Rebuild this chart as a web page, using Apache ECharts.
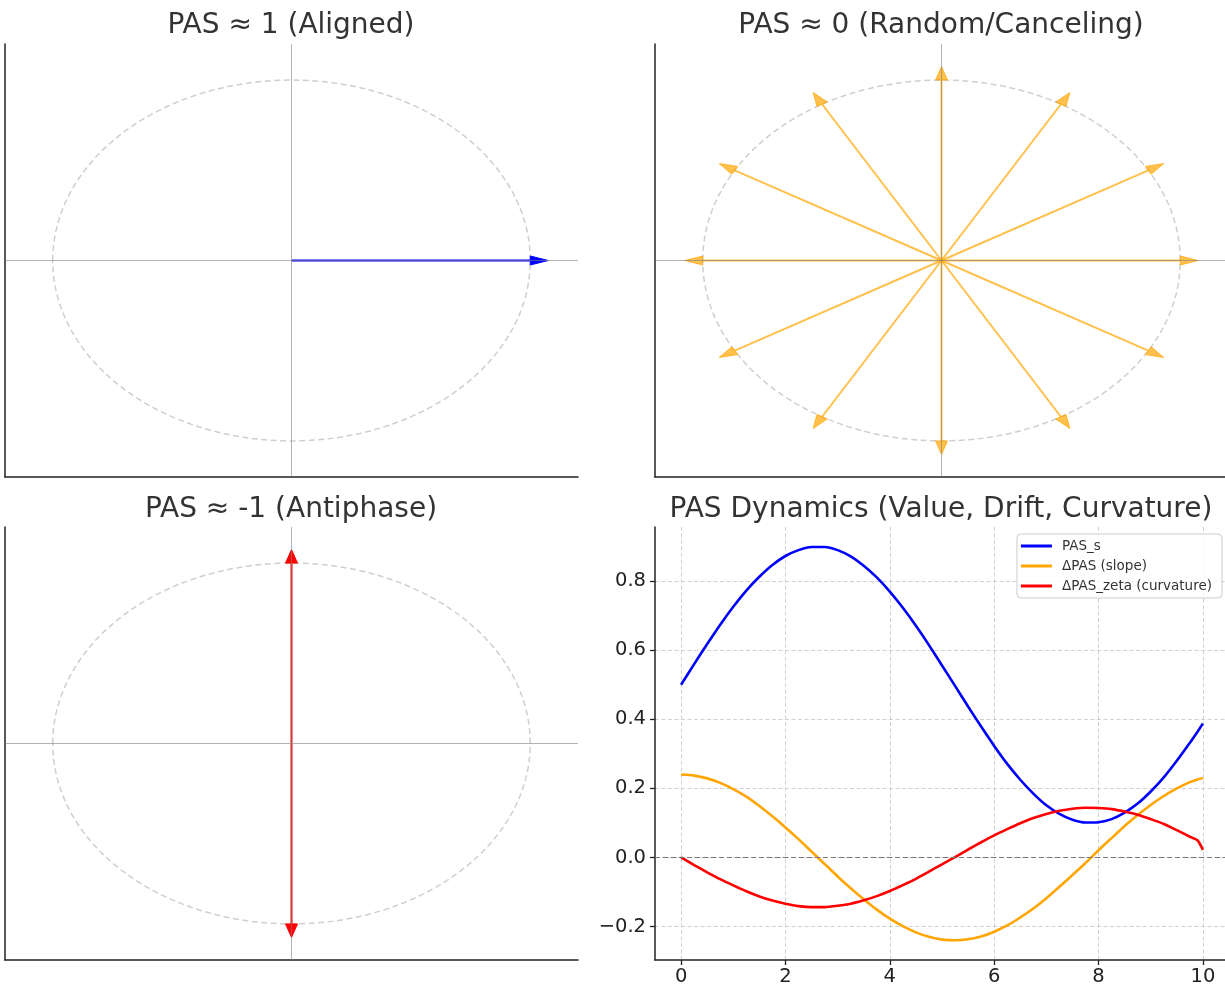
<!DOCTYPE html>
<html>
<head>
<meta charset="utf-8">
<script src="https://cdn.jsdelivr.net/npm/echarts@6/dist/echarts.min.js"></script>
<style>
  html, body { margin: 0; padding: 0; background: #fff; }
  #chart { width: 1225px; height: 984px; }
</style>
</head>
<body>
<div id="chart"></div>
<script>
// unit-circle panels
const circleRadius = 1;
const axisLimit = 1.2;
const alignedVectors = [[0, 0, 1, 0]];            // x0, y0, dx, dy
const randomAngles = [0, 30, 60, 90, 120, 150, 180, 210, 240, 270, 300, 330]; // degrees
const antiphaseVectors = [[0, 0, 0, 1], [0, 0, 0, -1]];
const headWidth = 0.05;
const headLength = 0.075;

// dynamics panel
const tValues = [0, 0.25, 0.5, 0.75, 1, 1.25, 1.5, 1.75, 2, 2.25, 2.5, 2.75, 3, 3.25, 3.5, 3.75, 4, 4.25,
  4.5, 4.75, 5, 5.25, 5.5, 5.75, 6, 6.25, 6.5, 6.75, 7, 7.25, 7.5, 7.75, 8, 8.25, 8.5, 8.75, 9, 9.25,
  9.5, 9.75, 9.9, 10];
const pasValues = [0.500, 0.560, 0.618, 0.674, 0.726, 0.773, 0.813, 0.847, 0.873, 0.890, 0.899, 0.899,
  0.890, 0.872, 0.845, 0.811, 0.770, 0.723, 0.671, 0.615, 0.556, 0.497, 0.437, 0.379, 0.323, 0.271,
  0.225, 0.185, 0.151, 0.126, 0.109, 0.101, 0.102, 0.111, 0.130, 0.156, 0.191, 0.232, 0.280, 0.332,
  0.365, 0.388];
const slopeValues = [0.240, 0.237, 0.229, 0.216, 0.198, 0.176, 0.149, 0.119, 0.087, 0.053, 0.017, -0.019,
  -0.055, -0.089, -0.121, -0.151, -0.177, -0.199, -0.217, -0.230, -0.238, -0.240, -0.237, -0.229,
  -0.215, -0.197, -0.174, -0.148, -0.118, -0.085, -0.051, -0.016, 0.021, 0.056, 0.091, 0.123, 0.152,
  0.178, 0.200, 0.218, 0.226, 0.230];
const curvValues = [0.000, -0.022, -0.043, -0.063, -0.081, -0.098, -0.113, -0.125, -0.134, -0.141,
  -0.144, -0.144, -0.140, -0.134, -0.124, -0.112, -0.097, -0.080, -0.062, -0.041, -0.020, 0.001,
  0.023, 0.044, 0.064, 0.082, 0.099, 0.114, 0.126, 0.135, 0.141, 0.144, 0.143, 0.140, 0.133, 0.124,
  0.111, 0.097, 0.079, 0.060, 0.049, 0.022];
const xTicks = [0, 2, 4, 6, 8, 10];
const yTicks = [-0.2, 0, 0.2, 0.4, 0.6, 0.8];

const FONT = "DejaVu Sans";
const chart = echarts.init(document.getElementById("chart"));

const randomVectors = randomAngles.map(a => {
  const r = a * Math.PI / 180;
  return [0, 0, Math.cos(r), Math.sin(r)];
});

function arrowRenderer(color) {
  return function (params, api) {
    const x0 = api.value(0), y0 = api.value(1), dx = api.value(2), dy = api.value(3);
    const len = Math.sqrt(dx * dx + dy * dy);
    const ux = dx / len, uy = dy / len;
    const ex = x0 + dx, ey = y0 + dy;
    const hw = headWidth / 2;
    const p0 = api.coord([x0, y0]);
    const pe = api.coord([ex, ey]);
    const tip = api.coord([ex + ux * headLength, ey + uy * headLength]);
    const left = api.coord([ex - uy * hw, ey + ux * hw]);
    const right = api.coord([ex + uy * hw, ey - ux * hw]);
    return {
      type: "group",
      children: [
        { type: "line", shape: { x1: p0[0], y1: p0[1], x2: pe[0], y2: pe[1] },
          style: { stroke: color, lineWidth: 2 } },
        { type: "polygon", shape: { points: [left, tip, right] },
          style: { fill: color, stroke: color, lineWidth: 1 } }
      ]
    };
  };
}

function circleRenderer(params, api) {
  const c = api.coord([0, 0]);
  const s = api.size([circleRadius, circleRadius]);
  return {
    type: "ellipse",
    shape: { cx: c[0], cy: c[1], rx: s[0], ry: s[1] },
    style: { fill: "none", stroke: "#cfcfcf", lineWidth: 1.5, lineDash: [6, 3.5] }
  };
}

const grids = [
  { left: 5, top: 44, width: 573, height: 433 },
  { left: 655, top: 44, width: 573, height: 433 },
  { left: 5, top: 527, width: 573, height: 433 },
  { left: 655, top: 527, width: 574, height: 433 }
].map(g => Object.assign({ outerBoundsMode: "none", containLabel: false }, g));

const spine = { show: true, onZero: false, lineStyle: { color: "#222", width: 1.5 } };

function unitAxis(idx) {
  return {
    type: "value", gridIndex: idx, min: -axisLimit, max: axisLimit,
    axisLine: spine, axisTick: { show: false }, axisLabel: { show: false },
    splitLine: { show: false }
  };
}

const xAxes = [0, 1, 2].map(i => Object.assign(unitAxis(i), { position: "bottom" }));
const yAxes = [0, 1, 2].map(i => Object.assign(unitAxis(i), { position: "left" }));

const gridLine = { show: true, lineStyle: { color: "#d0d0d0", width: 1, type: [4, 2.5] } };

xAxes.push({
  type: "value", gridIndex: 3, min: -0.5, max: 10.5, position: "bottom",
  axisLine: spine,
  axisTick: { show: true, length: 5, customValues: xTicks, lineStyle: { color: "#222", width: 1.3 } },
  axisLabel: { customValues: xTicks, margin: 7, fontFamily: FONT, fontSize: 19.5, color: "#222" },
  splitLine: gridLine
});
yAxes.push({
  type: "value", gridIndex: 3, min: -0.297, max: 0.957, position: "left",
  axisLine: spine,
  axisTick: { show: true, length: 5, customValues: yTicks, lineStyle: { color: "#222", width: 1.3 } },
  axisLabel: { customValues: yTicks, margin: 9, fontFamily: FONT, fontSize: 19.5, color: "#222",
    formatter: v => v.toFixed(1).replace("-", "\u2212") },
  splitLine: gridLine
});

const zeroLines = {
  silent: true, symbol: "none", label: { show: false }, z: 10,
  lineStyle: { color: "rgba(128,128,128,0.6)", width: 1, type: "solid" },
  data: [{ xAxis: 0 }, { yAxis: 0 }],
  animation: false
};

const series = [];
[0, 1, 2].forEach(i => {
  series.push({
    type: "custom", xAxisIndex: i, yAxisIndex: i, z: 2,
    data: [[0, 0]], renderItem: circleRenderer, silent: true,
    markLine: zeroLines
  });
});
series.push({ type: "custom", xAxisIndex: 0, yAxisIndex: 0, z: 5, silent: true,
  data: alignedVectors, renderItem: arrowRenderer("#0000ff") });
series.push({ type: "custom", xAxisIndex: 1, yAxisIndex: 1, z: 5, silent: true,
  data: randomVectors, renderItem: arrowRenderer("rgba(255,165,0,0.7)") });
series.push({ type: "custom", xAxisIndex: 2, yAxisIndex: 2, z: 5, silent: true,
  data: antiphaseVectors, renderItem: arrowRenderer("#ff0000") });

function dyn(name, values, color) {
  return {
    name: name, type: "line", xAxisIndex: 3, yAxisIndex: 3, z: 4,
    data: tValues.map((t, i) => [t, values[i]]),
    showSymbol: false, smooth: 0.2,
    lineStyle: { color: color, width: 2.6 }, itemStyle: { color: color }
  };
}
const pasSeries = dyn("PAS_s", pasValues, "#0000ff");
pasSeries.markLine = {
  silent: true, symbol: "none", label: { show: false },
  lineStyle: { color: "#777", width: 1.1, type: [5, 3] },
  data: [{ yAxis: 0 }]
};
series.push(pasSeries);
series.push(dyn("\u0394PAS (slope)", slopeValues, "#ffa500"));
series.push(dyn("\u0394PAS_zeta (curvature)", curvValues, "#ff0000"));

const titleStyle = { fontFamily: FONT, fontSize: 28, fontWeight: "normal", color: "#333" };
const titles = [
  { text: "PAS \u2248 1 (Aligned)", left: 291, top: 12 },
  { text: "PAS \u2248 0 (Random/Canceling)", left: 941, top: 12 },
  { text: "PAS \u2248 -1 (Antiphase)", left: 291, top: 496 },
  { text: "PAS Dynamics (Value, Drift, Curvature)", left: 941, top: 496 }
].map(t => Object.assign({ textAlign: "center", padding: 0, textStyle: titleStyle }, t));

chart.setOption({
  animation: false,
  backgroundColor: "#fff",
  title: titles,
  grid: grids,
  xAxis: xAxes,
  yAxis: yAxes,
  legend: {
    orient: "vertical", right: 3, top: 534,
    icon: "rect", itemWidth: 31, itemHeight: 3, itemGap: 6,
    padding: [5, 10, 5, 4],
    borderColor: "#cccccc", borderWidth: 1, borderRadius: 4,
    backgroundColor: "rgba(255,255,255,0.8)",
    textStyle: { fontFamily: FONT, fontSize: 13.5, color: "#333", padding: [0, 0, 0, 5] },
    data: ["PAS_s", "\u0394PAS (slope)", "\u0394PAS_zeta (curvature)"]
  },
  series: series
});
</script>
</body>
</html>
